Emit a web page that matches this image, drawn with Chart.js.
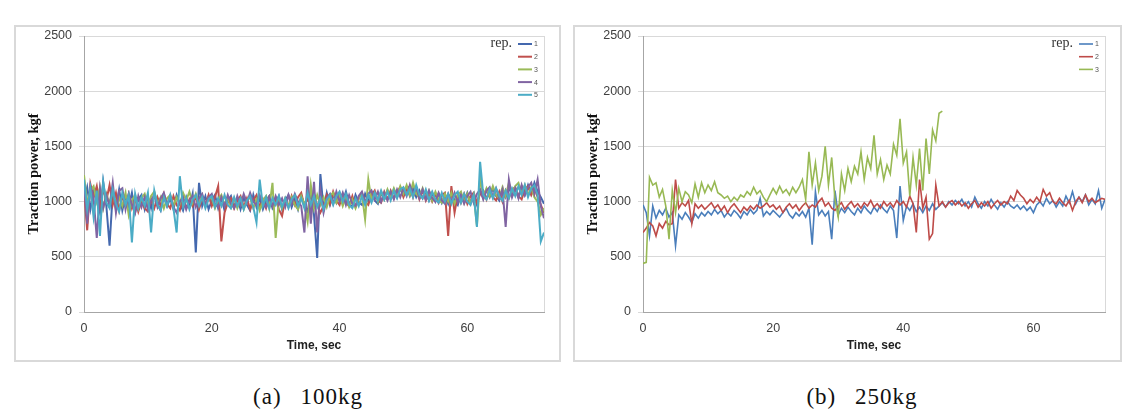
<!DOCTYPE html>
<html><head><meta charset="utf-8">
<script src="https://cdn.jsdelivr.net/npm/chart.js@4.4.1/dist/chart.umd.min.js"></script>
<style>
html,body{margin:0;padding:0;background:#fff;}
body{width:1132px;height:410px;position:relative;overflow:hidden;}
.wrap{position:absolute;}
.frame{position:absolute;border:2px solid #d9d9d9;box-sizing:border-box;pointer-events:none;}
.cap{position:absolute;font-family:"Liberation Serif",serif;font-size:23px;letter-spacing:1px;word-spacing:12px;color:#111;white-space:nowrap;transform:translate(-50%,-50%);}
</style></head>
<body>
<div class="wrap" style="left:15px;top:26px;width:545px;height:335px"><canvas id="c1"></canvas></div>
<div class="frame" style="left:14px;top:25px;width:547px;height:337px"></div>
<div class="wrap" style="left:574px;top:26px;width:547px;height:335px"><canvas id="c2"></canvas></div>
<div class="frame" style="left:573px;top:25px;width:549px;height:337px"></div>
<div class="cap" style="left:308px;top:397px">(a) 100kg</div>
<div class="cap" style="left:862px;top:397px">(b) 250kg</div>
<script>
// time stamps (sec)
const timeSec = [0,0.5,1,1.5,2,2.5,3,3.5,4,4.5,5,5.5,6,6.5,7,7.5,8,8.5,9,9.5,
10,10.5,11,11.5,12,12.5,13,13.5,14,14.5,15,15.5,16,16.5,17,17.5,18,18.5,19,19.5,
20,20.5,21,21.5,22,22.5,23,23.5,24,24.5,25,25.5,26,26.5,27,27.5,28,28.5,29,29.5,
30,30.5,31,31.5,32,32.5,33,33.5,34,34.5,35,35.5,36,36.5,37,37.5,38,38.5,39,39.5,
40,40.5,41,41.5,42,42.5,43,43.5,44,44.5,45,45.5,46,46.5,47,47.5,48,48.5,49,49.5,
50,50.5,51,51.5,52,52.5,53,53.5,54,54.5,55,55.5,56,56.5,57,57.5,58,58.5,59,59.5,
60,60.5,61,61.5,62,62.5,63,63.5,64,64.5,65,65.5,66,66.5,67,67.5,68,68.5,69,69.5,
70,70.5,71,71.5,72];

// (a) 100kg, rep. 1..5
const rep1_100 = [1000,1130,930,1090,1010,900,1180,960,600,1080,940,1110,920,1050,960,1080,900,1020,1060,930,
1040,940,1070,980,920,1050,960,1030,930,1060,980,920,1040,950,1070,540,1170,960,1050,930,
1010,1060,940,1030,920,1010,1050,950,1030,930,1040,970,920,1060,950,1030,930,1010,1050,940,
990,1050,930,1010,1060,950,1030,930,1050,970,910,1090,880,490,1250,930,1080,970,1060,990,
1080,1000,1090,980,950,1060,990,970,1070,1000,1090,1010,980,1080,1020,1100,1030,1110,1040,1120,
1060,1130,1050,1120,1040,1100,1030,1090,1010,1080,1000,1070,990,1060,980,1080,1010,970,1070,1000,
1080,990,1060,970,1090,1030,1110,1040,1120,1050,1010,1110,1040,1130,1050,1120,1040,1140,1060,1150,
1070,1170,1090,1040,980];
const rep2_100 = [1110,740,1160,1040,1140,960,1110,1010,1150,970,1080,920,1050,960,1070,940,1030,910,1010,940,
910,1020,940,1040,960,1070,980,940,1050,970,920,1030,940,1020,960,1050,930,1030,970,1060,
960,1040,1140,640,900,990,1030,940,1010,1050,950,1030,930,1010,1060,950,1020,940,1040,960,
1030,930,870,1020,950,1050,970,1040,1080,960,1030,940,1070,970,900,960,1060,980,1090,1010,
970,1070,990,960,1050,950,1030,1080,1000,970,1060,1100,1010,990,1090,1020,1100,1030,1090,1130,
1040,1110,1140,1040,1120,1020,1100,1010,1080,1000,1070,990,1060,1080,690,1140,900,1060,990,1070,
980,1050,1080,990,1070,1100,1020,1110,1040,1010,1090,1000,1100,1030,1110,1130,1050,1020,1110,1140,
1060,1130,1040,970,900];
const rep3_100 = [1240,980,1100,1140,1000,1130,940,1070,980,1110,920,1040,960,1080,880,1010,1060,940,1030,1070,
960,1050,1090,970,1040,940,1030,1060,960,1040,980,1080,1010,1090,990,1070,980,1060,960,1040,
1030,940,1020,1060,970,1040,950,1030,940,1020,930,1010,1040,940,1020,920,1010,1050,940,1170,
670,1020,940,1030,960,1040,970,930,1050,980,820,1150,940,1060,970,1040,950,1050,1080,990,
1060,960,1040,950,1020,940,1030,1070,840,1200,1010,1080,1000,1090,1020,1110,1040,1120,1050,1140,
1070,1150,1060,1170,1070,1040,1120,1030,1100,1010,1090,1020,990,1070,1000,1080,980,1060,1090,990,
1070,980,1060,780,1220,1040,1120,1050,1140,1060,1030,1130,1050,1170,1070,1140,1170,1070,1150,1060,
1130,1040,1000,880,940];
const rep4_100 = [1170,800,1140,1030,670,1120,940,1060,960,1170,900,1100,1120,930,1070,970,900,1050,950,1040,
930,1010,1060,950,1030,1080,970,1050,950,900,1000,1040,930,1010,1050,950,1030,1070,970,1040,
1070,980,950,1040,960,1060,980,940,1050,970,1070,990,1080,1000,970,1060,980,950,1040,960,
1050,970,1030,950,1060,980,1070,1000,960,720,1230,800,1180,720,1100,900,1030,1070,980,1090,
1000,1080,970,1060,980,960,1050,1090,990,1070,1100,1020,1090,1000,1080,1010,1090,1020,1110,1040,
1120,1050,1150,1060,1130,1030,1110,1020,1100,1030,1000,1080,1010,980,1070,1000,1080,990,1060,980,
1050,1090,990,1070,1110,1020,1100,1130,1040,1120,1030,1110,770,1200,1040,1120,1030,1150,1060,1130,
1170,1070,1200,960,850];
const rep5_100 = [1200,930,1120,860,1100,690,1180,990,940,1110,980,910,1080,970,1060,630,1070,940,1040,960,
1080,720,1100,970,920,1040,960,1060,940,720,1230,950,1030,930,1020,1060,960,1040,940,1020,
1050,950,1030,960,1060,970,940,1040,960,1030,930,1010,1050,950,810,1200,960,1040,940,1030,
970,1050,950,1030,940,1020,1060,960,1030,940,1080,970,1050,950,1030,930,1020,1060,970,1050,
1090,1000,1070,970,940,1030,960,1050,970,1060,990,1080,1010,1100,1020,1090,1010,1100,1030,1110,
1130,1060,1120,1040,1150,1060,1030,1110,1010,1090,1020,990,1080,1000,1070,980,1060,1090,990,1070,
1000,970,1060,770,1360,1060,1020,1110,1030,1120,1050,1010,1100,1030,1120,1050,1140,1060,1150,1040,
1120,1150,1060,640,720];

// (b) 250kg, rep. 1..3
const rep1_250 = [970,900,690,960,850,920,880,940,860,900,600,880,840,900,860,810,890,850,900,870,
910,880,930,890,920,860,900,870,920,890,850,910,880,930,890,920,1030,870,910,880,
920,890,860,900,940,880,850,900,870,910,860,940,610,1090,880,920,870,910,660,1100,
880,940,900,950,910,880,940,900,960,920,890,950,910,970,930,900,960,920,670,1140,
830,960,920,980,910,950,900,960,920,980,930,960,990,950,1000,970,1010,980,1020,960,
1000,950,1040,980,940,1000,960,1020,970,930,990,950,1000,960,940,970,930,960,920,950,
900,970,1000,960,1030,980,1010,950,1000,960,1050,990,1090,980,1040,1000,1060,970,1020,980,
1100,940,1020];
const rep2_250 = [720,760,810,780,690,800,760,820,790,800,1200,940,990,960,1010,800,980,940,970,930,
960,990,940,970,920,960,900,950,980,940,900,950,920,960,930,970,940,960,990,950,
970,930,960,900,950,980,940,970,920,960,990,940,970,950,1000,1030,960,990,940,920,
960,990,930,970,1000,950,980,940,990,960,1010,950,980,940,1000,960,990,950,1010,970,
1000,950,1050,980,720,1200,940,1040,660,710,1150,960,1000,950,990,1010,970,1000,960,990,
940,980,1010,950,990,960,1000,940,980,1010,970,1000,980,1050,1010,1100,1060,1030,980,1020,
990,1040,1000,1110,1050,1080,1000,980,1030,990,960,1010,920,1000,1040,990,1060,1000,1030,990,
1010,1030,1020];
const rep3_250 = [440,450,1220,1150,1170,1040,1110,960,660,1100,900,1120,1000,1090,1060,990,1160,1040,1170,1080,
1150,1100,1180,1080,1060,1030,1050,1000,1040,1010,1060,1040,1090,1060,1130,1070,1100,1040,1000,1060,
1120,1070,1140,1080,1110,1060,1130,1080,1130,1200,1020,1450,1150,1350,1100,1230,1500,1150,1400,1020,
860,1250,1100,1300,1180,1320,1250,1450,1200,1400,1300,1600,1250,1380,1200,1330,1250,1520,1420,1750,
1350,1450,1050,1400,1150,1480,1100,1570,1250,1650,1550,1800,1820];

const repLabelsA = ['1','2','3','4','5'];
const repLabelsB = ['1','2','3'];
const yTickValues = [0,500,1000,1500,2000,2500];
const xTickValues = [0,20,40,60];

function toPoints(vals){ return vals.map((v,i)=>({x:timeSec[i], y:v})); }

const repLegend = {
  id:'repLegend',
  afterDraw(chart){
    const {ctx, chartArea:a} = chart;
    ctx.save();
    ctx.font = '14px "Liberation Serif"';
    ctx.fillStyle = '#333';
    ctx.textAlign = 'right'; ctx.textBaseline = 'middle';
    ctx.fillText('rep.', a.right - 32, a.top + 7);
    chart.data.datasets.forEach((ds,i)=>{
      const y = a.top + 8 + i*12.7;
      ctx.strokeStyle = ds.borderColor; ctx.lineWidth = ds.borderWidth;
      ctx.beginPath(); ctx.moveTo(a.right-26,y); ctx.lineTo(a.right-12,y); ctx.stroke();
      ctx.font = '7px "Liberation Sans"'; ctx.fillStyle = '#555'; ctx.textAlign='left';
      ctx.fillText(ds.label, a.right-10, y+0.5);
    });
    ctx.restore();
  }
};
const plotBorder = {
  id:'plotBorder',
  beforeDatasetsDraw(chart){
    const {ctx, chartArea:a} = chart;
    ctx.save(); ctx.strokeStyle='#d9d9d9'; ctx.lineWidth=1;
    ctx.beginPath(); ctx.moveTo(a.right+0.5,a.top); ctx.lineTo(a.right+0.5,a.bottom); ctx.stroke();
    ctx.restore();
  }
};

function makeChart(id, seriesList, labels, colors, width, xmax){
  const n = seriesList.length;
  return new Chart(document.getElementById(id), {
    type:'line',
    data:{datasets: seriesList.map((s,i)=>({label:labels[i], data:toPoints(s), borderColor:colors[i], backgroundColor:colors[i],
      borderWidth:width, pointRadius:0, tension:0, fill:false, order:n-i}))},
    options:{
      responsive:true, maintainAspectRatio:false, animation:false,
      layout:{padding:{top:10,right:16,left:0,bottom:0}},
      plugins:{legend:{display:false}, tooltip:{enabled:false}},
      scales:{
        x:{type:'linear', min:0, max:xmax,
          afterBuildTicks:s=>{s.ticks = xTickValues.map(v=>({value:v}));},
          afterFit:s=>{s.height=49; s.paddingLeft=0; s.paddingRight=0;},
          grid:{display:false, drawTicks:false},
          border:{display:true, color:'#a6a6a6', width:1},
          ticks:{padding:9, color:'#404040', font:{family:'"Liberation Sans"', size:12.5}, callback:v=>String(v)},
          title:{display:true, text:'Time, sec', color:'#222', padding:{top:8,bottom:8}, font:{family:'"Liberation Sans"', size:12, weight:'bold'}}
        },
        y:{min:0, max:2500,
          afterBuildTicks:s=>{s.ticks = yTickValues.map(v=>({value:v}));},
          afterFit:s=>{s.width=69; s.paddingTop=0; s.paddingBottom=0;},
          grid:{color:'#d9d9d9', tickLength:5, drawTicks:true},
          border:{display:true, color:'#a6a6a6', width:1},
          ticks:{padding:7, color:'#404040', font:{family:'"Liberation Sans"', size:12.5}, callback:v=>String(v)},
          title:{display:true, text:'Traction power, kgf', color:'#111', padding:{top:11,bottom:0}, font:{family:'"Liberation Serif"', size:14.5, weight:'bold'}}
        }
      }
    },
    plugins:[plotBorder, repLegend]
  });
}

makeChart('c1', [rep1_100,rep2_100,rep3_100,rep4_100,rep5_100], repLabelsA,
  ['#4468AE','#C0504D','#9BBB59','#8064A2','#4BACC6'], 2, 72);
makeChart('c2', [rep1_250,rep2_250,rep3_250], repLabelsB,
  ['#4A7EBB','#BE4B48','#98B954'], 1.6, 71);
</script>
</body></html>
